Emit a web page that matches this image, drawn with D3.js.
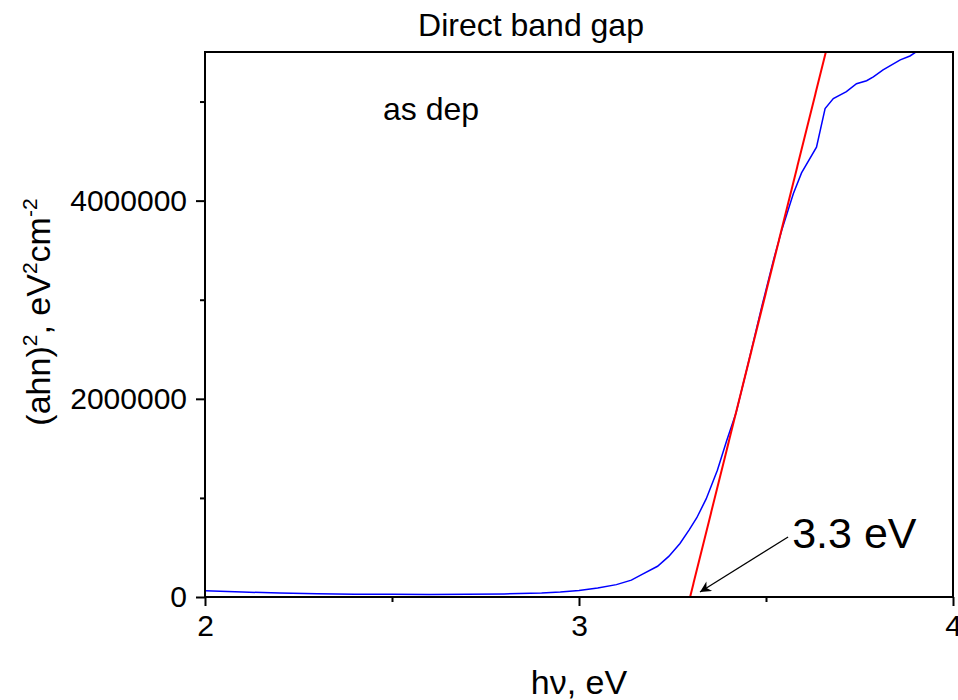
<!DOCTYPE html>
<html>
<head>
<meta charset="utf-8">
<script src="https://cdn.jsdelivr.net/npm/d3@7"></script>
<style>
  html, body { margin: 0; padding: 0; background: #fff; }
  text { font-family: "Liberation Sans", Arial, sans-serif; fill: #000; }
</style>
</head>
<body>
<div class="chart"></div>
<script>
var hv = [2.0, 2.1, 2.2, 2.3, 2.4, 2.5, 2.6, 2.7, 2.8, 2.9, 2.95, 3.0, 3.05, 3.1, 3.14, 3.17,
  3.21, 3.24, 3.27, 3.295, 3.315, 3.34, 3.37, 3.395, 3.42, 3.45, 3.49, 3.52, 3.542, 3.573,
  3.595, 3.635, 3.658, 3.68, 3.715, 3.742, 3.769, 3.787, 3.813, 3.859, 3.885, 3.905];
var ahn2 = [64000, 50000, 40000, 33000, 29000, 27000, 26000, 27000, 31000, 40000, 50000,
  65000, 90000, 125000, 170000, 230000, 310000, 410000, 540000, 680000, 800000, 990000,
  1280000, 1580000, 1860000, 2320000, 2950000, 3400000, 3700000, 4070000, 4280000, 4540000,
  4930000, 5030000, 5100000, 5180000, 5210000, 5250000, 5320000, 5420000, 5460000, 5510000];

// linear fit of the absorption edge
var fitX = [3.297, 3.66];
var fitY = [0, 5500000];

var xTicks = [2, 3, 4];
var xMinor = [2.5, 3.5];
var yTicks = [0, 2000000, 4000000];
var yMinor = [1000000, 3000000, 5000000];

var xDomain = [2, 4];
var yDomain = [0, 5500000];

// annotation anchors, in data units
var arrowFrom = [3.559, 605000];
var arrowTo = [3.3235, 50000];
var gapLabel = [3.57, 494000];
var sampleLabel = [2.476, 4810000];

var width = 958, height = 700;
var margin = {left: 205, right: 5, top: 52, bottom: 103};

var x = d3.scaleLinear().domain(xDomain).range([margin.left, width - margin.right]);
var y = d3.scaleLinear().domain(yDomain).range([height - margin.bottom, margin.top]);

var svg = d3.select(".chart")
  .append("svg")
  .attr("width", width)
  .attr("height", height);

svg.append("defs").append("clipPath")
  .attr("id", "plot-clip")
  .append("rect")
  .attr("x", x(xDomain[0]))
  .attr("y", y(yDomain[1]))
  .attr("width", x(xDomain[1]) - x(xDomain[0]))
  .attr("height", y(yDomain[0]) - y(yDomain[1]));

svg.append("defs").append("marker")
  .attr("id", "arrowhead")
  .attr("viewBox", "0 0 10 10")
  .attr("refX", 10).attr("refY", 5)
  .attr("markerWidth", 16).attr("markerHeight", 11)
  .attr("markerUnits", "userSpaceOnUse")
  .attr("orient", "auto")
  .append("path")
  .attr("d", "M0,0 L10,5 L0,10 L3,5 Z")
  .style("fill", "#000");

var plot = svg.append("g").attr("clip-path", "url(#plot-clip)");

// spectrum
var line = d3.line()
  .x(function(d, i) { return x(hv[i]); })
  .y(function(d) { return y(d); });

plot.append("path")
  .datum(ahn2)
  .attr("d", line)
  .style("fill", "none")
  .style("stroke", "#0000ff")
  .style("stroke-width", 1.5);

// fit line
plot.append("line")
  .attr("x1", x(fitX[0])).attr("y1", y(fitY[0]))
  .attr("x2", x(fitX[1])).attr("y2", y(fitY[1]))
  .style("stroke", "#ff0000")
  .style("stroke-width", 2);

// axes
var xAxis = svg.append("g")
  .attr("transform", "translate(0," + y(yDomain[0]) + ")")
  .call(d3.axisBottom(x).tickValues(xTicks).tickSize(9).tickPadding(4).tickFormat(d3.format("d")));
svg.append("g")
  .attr("transform", "translate(0," + y(yDomain[0]) + ")")
  .call(d3.axisBottom(x).tickValues(xMinor).tickSize(5).tickFormat(""));

var yAxis = svg.append("g")
  .attr("transform", "translate(" + x(xDomain[0]) + ",0)")
  .call(d3.axisLeft(y).tickValues(yTicks).tickSize(9).tickPadding(9).tickFormat(d3.format("d")));
svg.append("g")
  .attr("transform", "translate(" + x(xDomain[0]) + ",0)")
  .call(d3.axisLeft(y).tickValues(yMinor).tickSize(5).tickFormat(""));

svg.selectAll(".domain").remove();
svg.selectAll(".tick line").style("stroke", "#000").style("stroke-width", 2);
xAxis.selectAll("text").style("font-size", "30px").attr("dy", "0.85em");
yAxis.selectAll("text").style("font-size", "30px");

// frame
svg.append("rect")
  .attr("x", x(xDomain[0]))
  .attr("y", y(yDomain[1]))
  .attr("width", x(xDomain[1]) - x(xDomain[0]))
  .attr("height", y(yDomain[0]) - y(yDomain[1]))
  .style("fill", "none")
  .style("stroke", "#000")
  .style("stroke-width", 2);

// title
svg.append("text")
  .attr("x", 531)
  .attr("y", 36)
  .style("text-anchor", "middle")
  .style("font-size", "32px")
  .text("Direct band gap");

// axis titles
svg.append("text")
  .attr("x", (x(xDomain[0]) + x(xDomain[1])) / 2)
  .attr("y", 694)
  .style("text-anchor", "middle")
  .style("font-size", "34px")
  .text("h\u03bd, eV");

var yl = svg.append("text")
  .attr("transform", "translate(50,312) rotate(-90)")
  .style("text-anchor", "middle")
  .style("font-size", "34px");
yl.append("tspan").text("(ahn)");
yl.append("tspan").attr("dy", -13).style("font-size", "21px").text("2");
yl.append("tspan").attr("dy", 13).text(", eV");
yl.append("tspan").attr("dy", -13).style("font-size", "21px").text("2");
yl.append("tspan").attr("dy", 13).text("cm");
yl.append("tspan").attr("dy", -13).style("font-size", "21px").text("-2");

// annotations
svg.append("text")
  .attr("x", x(sampleLabel[0]))
  .attr("y", y(sampleLabel[1]))
  .style("font-size", "32px")
  .text("as dep");

svg.append("line")
  .attr("x1", x(arrowFrom[0])).attr("y1", y(arrowFrom[1]))
  .attr("x2", x(arrowTo[0])).attr("y2", y(arrowTo[1]))
  .style("stroke", "#000")
  .style("stroke-width", 1.3)
  .attr("marker-end", "url(#arrowhead)");

svg.append("text")
  .attr("x", x(gapLabel[0]))
  .attr("y", y(gapLabel[1]))
  .style("font-size", "43px")
  .text("3.3 eV");
</script>
</body>
</html>
